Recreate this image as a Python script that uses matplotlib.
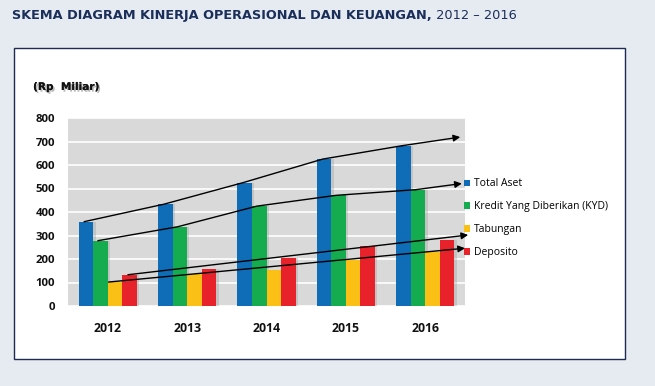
import numpy as np
import matplotlib
matplotlib.use("Agg")
import matplotlib.pyplot as plt
from matplotlib.patches import Rectangle, Patch
from matplotlib.text import Annotation
import matplotlib.patheffects as pe

# data (Rp Miliar)
years = ["2012", "2013", "2014", "2015", "2016"]
total_aset = [359, 433, 525, 625, 682]
kredit = [278, 337, 425, 471, 495]
tabungan = [102, 135, 155, 196, 230]
deposito = [133, 159, 206, 255, 281]
series_names = ["Total Aset", "Kredit Yang Diberikan (KYD)", "Tabungan", "Deposito"]
y_ticks = [0, 100, 200, 300, 400, 500, 600, 700, 800]

colors = ["#0F6CB6", "#14AC4F", "#FBC016", "#E8222B"]
W, H = 655, 386
plt.rcParams["font.family"] = ["Open Sans", "DejaVu Sans"]

fig = plt.figure(figsize=(W / 100, H / 100), dpi=100)
fig.patch.set_facecolor("#E5EBF1")

# white panel with navy frame
fig.patches.append(Rectangle((13.5 / W, 1 - 359 / H), (625 - 13.5) / W, (359 - 47.5) / H,
                             transform=fig.transFigure, facecolor="white",
                             edgecolor="#1E2B52", linewidth=1.0, zorder=-5))

# title: bold part + normal part
t1 = fig.text(12.5 / W, 1 - 15.5 / H, "SKEMA DIAGRAM KINERJA OPERASIONAL DAN KEUANGAN,",
              fontsize=9.3, fontweight="bold", color="#1B2E5A", va="center", ha="left",
              family="DejaVu Sans")
fig.add_artist(Annotation(" 2012 \u2013 2016", xy=(1, 0.5), xycoords=t1, family="DejaVu Sans",
                          va="center", ha="left", fontsize=9.3, color="#1B2E5A"))

# unit label with shadow
fig.text(33 / W, 1 - 87 / H, "(Rp  Miliar)", fontsize=7.6, fontweight="bold", color="#111111",
         va="center", ha="left", family="DejaVu Sans",
         path_effects=[pe.withSimplePatchShadow(offset=(1.2, -1.2), shadow_rgbFace="#888888", alpha=0.6),
                       pe.Normal()])

ax = fig.add_axes([68 / W, 1 - 306 / H, (465 - 68) / W, (306 - 118) / H])
ax.set_facecolor("#D9D9D9")
for s in ax.spines.values():
    s.set_visible(False)

x = np.arange(len(years))
bw = 0.183
all_series = [total_aset, kredit, tabungan, deposito]
offsets = [-1.5 * bw, -0.5 * bw, 0.5 * bw, 1.5 * bw]
for vals, c, off in zip(all_series, colors, offsets):
    # soft shadow
    ax.bar(x + off + 0.03, vals, bw, color="#9a9a9a", alpha=0.35, zorder=2, linewidth=0)
for vals, c, off, name in zip(all_series, colors, offsets, series_names):
    ax.bar(x + off, vals, bw, color=c, zorder=3, linewidth=0, label=name)

ax.set_xlim(-0.5, len(years) - 0.5)
ax.set_ylim(0, 800)
ax.set_yticks(y_ticks)
ax.yaxis.grid(True, color="white", linewidth=1.2, zorder=1)
ax.set_axisbelow(True)
ax.set_xticks(x)
ax.set_xticklabels(years)
ax.tick_params(length=0)
ax.tick_params(axis="y", pad=9.5, labelsize=8.2)
ax.tick_params(axis="x", pad=11.5, labelsize=8.8)
for lab in ax.get_xticklabels() + ax.get_yticklabels():
    lab.set_fontweight("bold")
    lab.set_color("#111111")

# hand-drawn trend arrows
# top two follow the bar tops, bottom two are straight; the head goes past 2016
# along the series' fitted slope
trends = [  # values, bar offset, arrow tip x, follow tops?
    (total_aset, offsets[0] - 0.02, 4.44, True),
    (kredit, offsets[1] - 0.03, 4.46, True),
    (deposito, offsets[3] - 0.02, 4.54, False),
    (tabungan, offsets[2] - 0.08, 4.50, False),
]
for vals, off, tip_x, follow in trends:
    slope = np.polyfit(x, vals, 1)[0]
    xs = x + off
    tip_y = vals[-1] + slope * (tip_x - x[-1])
    if follow:
        ax.plot(xs, vals, color="black", linewidth=1.0, zorder=5, clip_on=False)
        start = (xs[-1], vals[-1])
    else:
        start = (xs[0], vals[0])
    ax.annotate("", xy=(tip_x, tip_y), xytext=start,
                arrowprops=dict(arrowstyle="-|>", color="black", lw=1.0,
                                mutation_scale=10, shrinkA=0, shrinkB=0),
                annotation_clip=False, zorder=6)

handles = [Patch(facecolor=c, edgecolor="none") for c in colors]
ax.legend(handles, series_names, loc="upper left", bbox_to_anchor=((464 - 68) / 397, (306 - 178.5) / 188),
          frameon=False, fontsize=7.5, handlelength=0.6, handleheight=0.6,
          handletextpad=0.35, labelspacing=1.15, borderpad=0, borderaxespad=0)

fig.savefig("out.png", dpi=100, facecolor=fig.get_facecolor())
